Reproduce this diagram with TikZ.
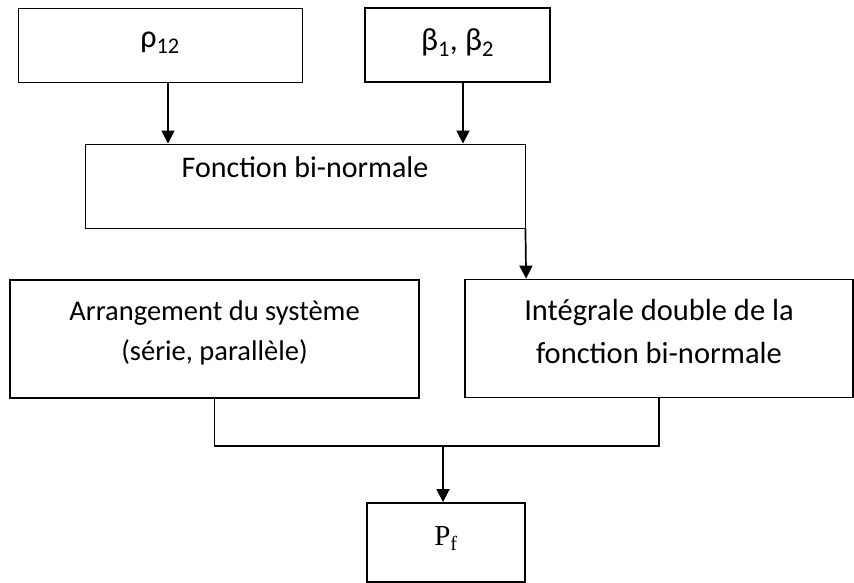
\documentclass[tikz,border=0pt]{standalone}
\usepackage{fontspec}
\setmainfont{Carlito}
\newfontfamily\pffont{Liberation Serif}
\usetikzlibrary{arrows.meta,calc}

\begin{document}
\begin{tikzpicture}[x=1pt,y=-1pt,>={Triangle[length=13pt,width=13pt]},
   thinbox/.style={draw,line width=0.9pt,inner sep=0pt,text height=22pt},
   thickbox/.style={draw,line width=1.8pt,inner sep=0pt,text height=22pt},
   link/.style={line width=1.7pt},
   every node/.style={font=\fontsize{30}{40}\selectfont}]
  \useasboundingbox (0,0) rectangle (854,583);
  \node (rho) [thinbox,minimum width=284pt,minimum height=74pt,text depth=16pt,
    font=\fontsize{32}{40}\selectfont]
    at (160,45) {ρ\textsubscript{12}};
  \node (beta) [thickbox,minimum width=185pt,minimum height=74pt,text depth=10pt,
    font=\fontsize{32}{40}\selectfont]
    at (457.5,45) {β\textsubscript{1}, β\textsubscript{2}};
  \node (fonc) [thinbox,minimum width=440pt,minimum height=84pt,text depth=40pt]
    at (305,186) {Fonction bi-normale};
  \node (arr) [thickbox,minimum width=409pt,minimum height=118pt,
    text height=42pt,text depth=0pt,
    align=center,font=\fontsize{28.5}{40}\selectfont]
    at (214.5,339) {Arrangement du système\\(série, parallèle)};
  \node (integ) [thickbox,minimum width=388pt,minimum height=118pt,
    text height=49pt,text depth=0pt,
    align=center,font=\fontsize{30.5}{43}\selectfont]
    at (659,338.5) {Intégrale double de la\\fonction bi-normale};
  \node (pf) [thickbox,minimum width=158pt,minimum height=79pt,text depth=17pt,
    font=\pffont\fontsize{29}{35}\selectfont]
    at (446,542.5) {P\textsubscript{f}};
  \coordinate (join) at (443,446);
  \draw[link,->] ([xshift=8pt]rho.south) -- ([xshift=8pt]rho.south |- fonc.north);
  \draw[link,->] ([xshift=5.5pt]beta.south) -- ([xshift=5.5pt]beta.south |- fonc.north);
  \draw[link,->] (fonc.south east) -- ([xshift=62pt]integ.north west);
  \draw[link] (arr.south) |- (join) -| (integ.south);
  \draw[link,->] (join) -- (join |- pf.north);
\end{tikzpicture}
\end{document}
